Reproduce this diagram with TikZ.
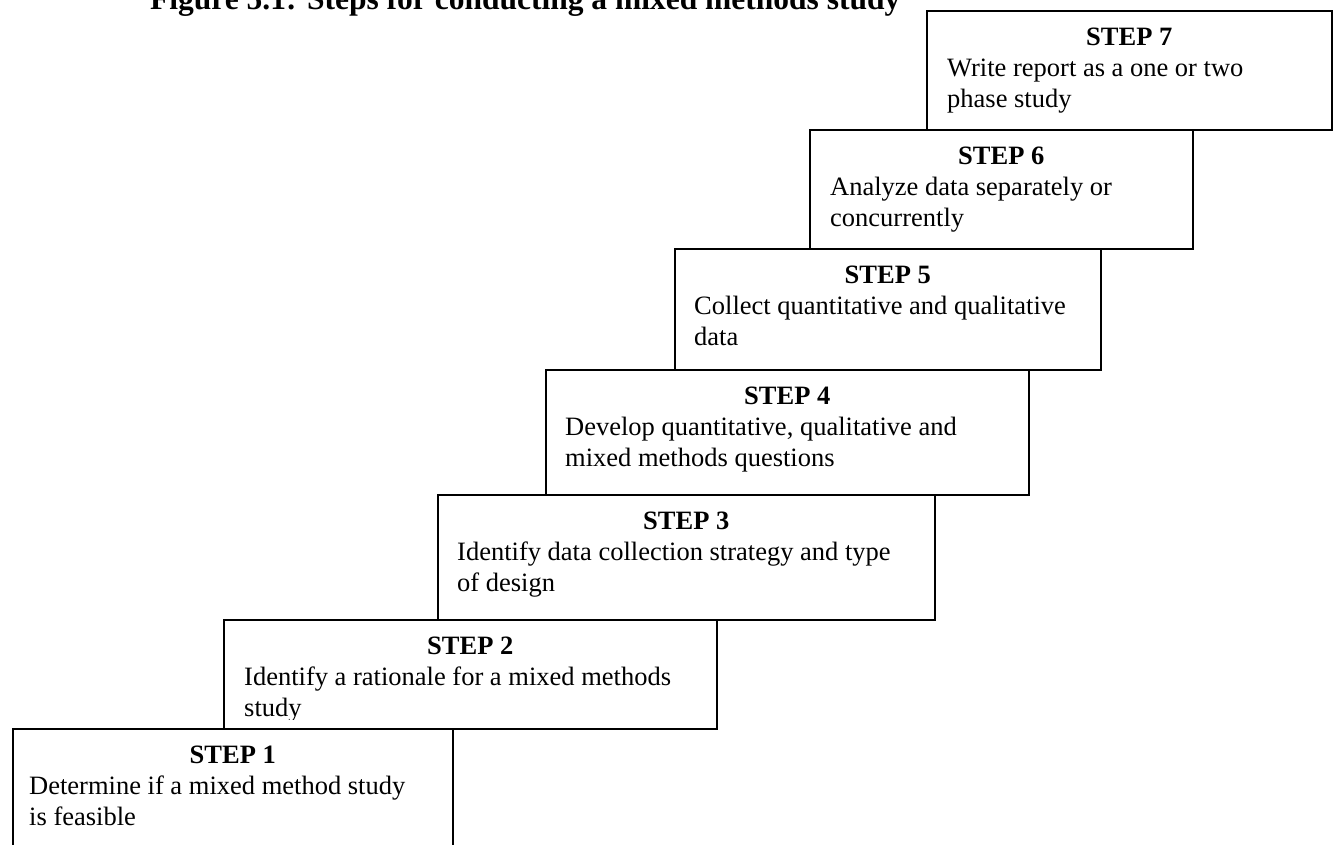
\documentclass[tikz,border=0pt]{standalone}
\usepackage{fontspec}
\setmainfont{Liberation Serif}
\begin{document}
\begin{tikzpicture}[x=1pt,y=-1pt,
 stepbox/.style={draw=black, line width=1.6pt, fill=white, rectangle, inner sep=0pt, anchor=north west},
 steptitle/.style={font=\fontsize{26.5}{31}\selectfont\bfseries, anchor=base, inner sep=0pt},
 steptext/.style={font=\fontsize{26.5}{31}\selectfont, anchor=base west, inner sep=0pt},
 figtitle/.style={font=\fontsize{31.5}{36}\selectfont\bfseries, anchor=base west, inner sep=0pt}]
\useasboundingbox (0,0) rectangle (1337,844);
\clip (0,0) rectangle (1337,844);
\node[figtitle] (title) at (150,9) {Figure 5.1: Steps for conducting a mixed methods study};
% STEP 7
\node[stepbox, minimum width=405pt, minimum height=119pt] (s7) at (926,10) {};
\node[steptitle] (t7) at ([yshift=-35pt]s7.north) {STEP 7};
\node[steptext] (a7) at ([xshift=21pt,yshift=-66pt]s7.north west) {Write report as a one or two};
\node[steptext] (b7) at ([xshift=21pt,yshift=-97pt]s7.north west) {phase study};
% STEP 6
\node[stepbox, minimum width=383pt, minimum height=119pt] (s6) at (809,129) {};
\node[steptitle] (t6) at ([yshift=-35pt]s6.north) {STEP 6};
\node[steptext] (a6) at ([xshift=21pt,yshift=-66pt]s6.north west) {Analyze data separately or};
\node[steptext] (b6) at ([xshift=21pt,yshift=-97pt]s6.north west) {concurrently};
% STEP 5
\node[stepbox, minimum width=426pt, minimum height=121pt] (s5) at (674,248) {};
\node[steptitle] (t5) at ([yshift=-35pt]s5.north) {STEP 5};
\node[steptext] (a5) at ([xshift=20pt,yshift=-66pt]s5.north west) {Collect quantitative and qualitative};
\node[steptext] (b5) at ([xshift=20pt,yshift=-97pt]s5.north west) {data};
% STEP 4
\node[stepbox, minimum width=483pt, minimum height=125pt] (s4) at (545,369) {};
\node[steptitle] (t4) at ([yshift=-35pt]s4.north) {STEP 4};
\node[steptext] (a4) at ([xshift=20pt,yshift=-66pt]s4.north west) {Develop quantitative, qualitative and};
\node[steptext] (b4) at ([xshift=20pt,yshift=-97pt]s4.north west) {mixed methods questions};
% STEP 3
\node[stepbox, minimum width=497pt, minimum height=125pt] (s3) at (437,494) {};
\node[steptitle] (t3) at ([yshift=-35pt]s3.north) {STEP 3};
\node[steptext] (a3) at ([xshift=20pt,yshift=-66pt]s3.north west) {Identify data collection strategy and type};
\node[steptext] (b3) at ([xshift=20pt,yshift=-97pt]s3.north west) {of design};
% STEP 2
\node[stepbox, minimum width=493pt, minimum height=109pt] (s2) at (223,619) {};
\begin{scope}
\clip (223,619) rectangle (716,719);
\node[steptitle] (t2) at ([yshift=-35pt]s2.north) {STEP 2};
\node[steptext] (a2) at ([xshift=21pt,yshift=-66pt]s2.north west) {Identify a rationale for a mixed methods};
\node[steptext] (b2) at ([xshift=21pt,yshift=-97pt]s2.north west) {study};
\end{scope}
% STEP 1
\node[stepbox, minimum width=440pt, minimum height=130pt] (s1) at (12,728) {};
\node[steptitle] (t1) at ([yshift=-35pt]s1.north) {STEP 1};
\node[steptext] (a1) at ([xshift=17pt,yshift=-66pt]s1.north west) {Determine if a mixed method study};
\node[steptext] (b1) at ([xshift=17pt,yshift=-97pt]s1.north west) {is feasible};
\end{tikzpicture}
\end{document}
